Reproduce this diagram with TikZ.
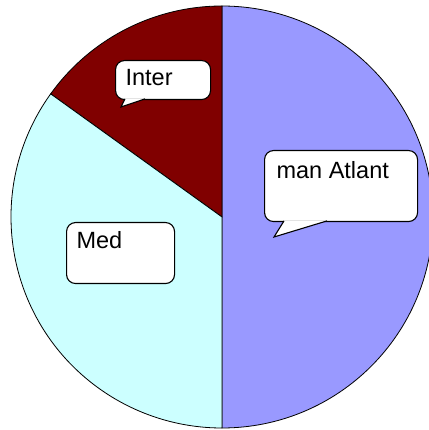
\documentclass[tikz,border=0pt]{standalone}
\usepackage{fontspec}
\setmainfont{Liberation Sans}
\usetikzlibrary{calc}
\definecolor{atl}{HTML}{9999FF}
\definecolor{medc}{HTML}{CCFFFF}
\definecolor{interc}{HTML}{800000}
\tikzset{
  box/.style={rectangle,draw,fill=white,rounded corners=9pt,line width=1.1pt,anchor=north west,font=\fontsize{23.5}{28}\selectfont},
  tail/.style={draw,fill=white,line width=1.1pt,line join=miter}
}
\begin{document}
\begin{tikzpicture}[x=1pt,y=1pt,line width=.8pt]
  \useasboundingbox(0,0)rectangle(428,430);
  \coordinate(c)at(222,213);
  \draw[fill=atl](c)--++(90:211)arc(90:-90:211)--cycle;
  \draw[fill=interc](c)--++(90:211)arc(90:144.3:211)--cycle;
  \draw[fill=medc](c)--++(144.3:211)arc(144.3:270:211)--cycle;
  \node[box,inner xsep=10pt,inner ysep=9pt](inter)at(115,370){\parbox[t][21pt][t]{75pt}{Inter}};
  \node[box,inner xsep=12pt,inner ysep=11pt](atlant)at(264,280){\parbox[t][49pt][t]{129pt}{man Atlant}};
  \node[box,inner xsep=10pt,inner ysep=9pt](med)at(66,208){\parbox[t][43pt][t]{88pt}{Med}};
  % pointers of the bubbles
  \coordinate(itip)at(121,323);
  \coordinate(atip)at(274,193);
  \path[tail]($(inter.south west)+(10,1.2)$)--(itip)--($(inter.south west)+(30,1.2)$);
  \path[tail]($(atlant.south west)+(20,1.2)$)--(atip)--($(atlant.south west)+(63,1.2)$);
\end{tikzpicture}
\end{document}
